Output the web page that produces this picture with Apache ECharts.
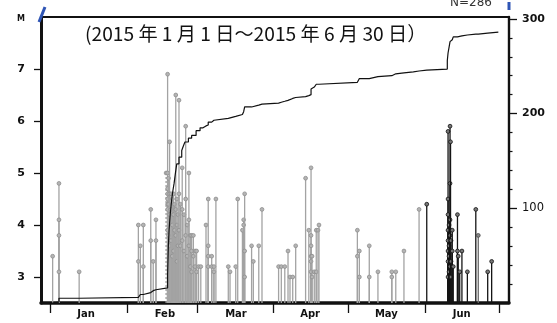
<!DOCTYPE html>
<html><head><meta charset="utf-8">
<script src="https://cdn.jsdelivr.net/npm/echarts@6/dist/echarts.min.js"></script>
<style>html,body{margin:0;padding:0;background:#fff}#c{width:557px;height:323px}</style>
</head><body><div id="c"></div>
<script>
// Days counted from 2015-01-01 (day 0)
const monthNames = ['Jan','Feb','Mar','Apr','May','Jun'];
const monthStarts = [0,31,59,90,120,151,181];
const monthLabelDays = [14.3,46.1,74.8,104.7,135.5,165.9];
const magTicks = [3,4,5,6,7];
const countMajorTicks = [100,200,300];
const countMinorTicks = [20,40,60,80,120,140,160,180,220,240,260,280];

// stems: day, magnitudes of events on that stem, shade (0 light gray, 1 black, 2 dark gray, 3 dashed)
const stemDay = [0.8,3.35,11.5,35.4,36.2,37.4,40.4,41.4,42.5,46.6,
 47.2,47.6,48.0,48.6,49.1,49.6,50.0,50.5,51.0,51.4,51.8,52.4,53.1,53.8,54.5,55.1,55.8,56.4,56.9,57.6,58.3,58.9,59.7,60.6,
 62.7,63.6,65.0,65.9,66.7,71.7,72.4,74.7,75.5,77.4,77.9,78.3,81.1,81.8,84.0,85.3,
 92.0,93.1,94.5,95.8,96.6,97.7,98.9,102.9,104.2,105.1,105.5,106.4,107.2,107.9,108.3,
 123.8,124.6,128.6,132.1,137.7,139.3,142.6,148.7,
 151.8,160.4,160.8,161.2,161.4,161.6,162.1,162.5,164.2,164.5,165.1,166.0,168.2,171.6,172.6,176.4,178.0];
const stemMags = [[3.4],[4.8,4.1,3.8,3.1],[3.1],[4.0,3.3],[3.6],[4.0,3.2],[4.3,3.7],[3.3],[4.1,3.7],[5.0],
 [6.9,5.0,4.7,4.6,4.5,4.4,4.3,3.9],[4.9,4.4,3.8],[5.6,4.6,4.2,3.6],[4.6,4.3,3.7],[4.5,4.0,3.4],[4.6,4.2,3.5],[4.4,3.9],[6.5,4.3,3.8],[4.5,4.0,3.3],[4.2,3.6],[6.4,4.6,3.9],[4.4,3.6],[5.1,4.3,3.7],[4.2,3.5],[5.9,4.5,3.8],[4.0,3.4],[5.0,4.1,3.6],[3.8,3.2],[3.8,3.5,3.1],[3.8,3.4],[3.5,3.2],[3.5,3.1],[3.2],[3.2],
 [4.0],[4.5,3.6,3.4,3.2],[3.4,3.2],[3.2,3.1],[4.5],[3.2],[3.1],[3.2],[4.5],[3.9],[4.1,4.0],[4.6,3.5,3.0],[3.6],[3.3],[3.6],[4.3],
 [3.2],[3.2],[3.2],[3.5],[3.0],[3.0],[3.6],[4.9],[3.9],[5.1,3.8,3.6,3.4,3.3,3.1],[3.4,3.0],[3.1],[3.9,3.1],[3.9],[4.0],
 [3.9,3.4],[3.5,3.0],[3.6,3.0],[3.1],[3.1,3.0],[3.1],[3.5],[4.3],
 [4.4],[5.8,4.5,4.2,3.9,3.7,3.5,3.3,3.0],[4.0,3.6,3.4,3.1],[5.9,4.8,4.1,3.8,3.2],[5.6],[3.7,3.3,3.0],[3.9,3.5],[3.2],[4.2,3.5],[3.4],[3.1],[3.5],[3.1],[4.3],[3.8],[3.1],[3.3]];
const stemShade = [0,0,0,0,0,0,0,0,0,3,
 0,0,0,0,0,0,0,0,0,0,0,0,0,0,0,0,0,0,0,0,0,0,0,0,
 0,0,0,0,0,0,0,0,0,0,0,0,0,0,0,0,
 0,0,0,0,0,0,0,0,0,0,0,0,0,0,0,
 0,0,0,0,0,0,0,0,
 1,1,1,1,1,1,1,1,1,1,1,1,1,1,2,1,1];

// cumulative number of events (step curve)
const cumDay =   [-3.9,0.8,3.35,11.5,35.4,36.2,37.4,40.4,41.4,42.5,47.2,47.5,47.8,48.3,48.8,49.3,49.8,50.4,50.9,51.8,52.9,53.6,54.2,55.6,56.9,58.7,60.3,61.5,62.7,63.6,65.0,65.9,71.7,72.4,74.7,75.5,77.4,77.9,78.3,81.1,81.8,84.0,85.3,92.0,93.1,94.5,95.8,96.6,97.7,98.9,102.9,104.2,105.1,105.5,106.4,107.2,108.3,123.8,124.6,128.6,132.1,137.7,139.3,142.6,146.4,148.7,151.8,160.1,160.4,160.8,161.2,161.6,162.1,162.5,164.2,166.0,168.2,171.6,172.6,176.4,180.7];
const cumCount = [0,1,5,6,8,9,11,13,14,16,30,60,77,95,108,118,126,138,147,154,161,166,170,174,177,182,185,187,188,191,193,195,196,197,198,199,200,202,207,208,209,210,211,212,213,214,215,216,217,218,219,220,226,228,229,231,233,235,237,239,240,242,243,244,245,246,247,256,264,270,276,278,280,281,282,283,284,284,285,286,286];

const shadeStroke = ['#a3a3a3','#151515','#6a6a6a','#9a9a9a'];
const shadeFill = ['#b4b4b4','#777777','#888888','#b4b4b4'];
const shadeEdge = ['#8e8e8e','#111111','#444444','#8e8e8e'];

const stemData = [];
stemDay.forEach((d,i)=>{ stemMags[i].forEach(m=>stemData.push([d,m,stemShade[i]])); });
const cumData = cumDay.map((d,i)=>[d,cumCount[i]]);

const chart = echarts.init(document.getElementById('c'));
const axisFont = 'DejaVu Sans';
chart.setOption({
  animation:false,
  grid:{left:41,right:48,top:17,bottom:20},
  xAxis:[{
    type:'value',min:-3.9,max:185,position:'bottom',
    axisLine:{show:true,onZero:false,lineStyle:{color:'#111',width:3.5}},
    axisTick:{show:true,customValues:monthStarts,length:10,lineStyle:{color:'#111',width:1.3}},
    axisLabel:{customValues:monthLabelDays,margin:6,color:'#111',fontFamily:axisFont,fontWeight:'bold',fontSize:10,
      formatter:v=>monthNames[monthLabelDays.indexOf(v)]||''},
    splitLine:{show:false}
  },{
    type:'value',min:-3.9,max:185,position:'top',
    axisLine:{show:true,onZero:false,lineStyle:{color:'#111',width:2.2}},
    axisTick:{show:false},axisLabel:{show:false},splitLine:{show:false}
  }],
  yAxis:[{
    type:'value',min:2.5,max:8,position:'left',
    axisLine:{show:true,onZero:false,lineStyle:{color:'#111',width:3}},
    axisTick:{show:true,customValues:magTicks,length:7,lineStyle:{color:'#111',width:1.3}},
    axisLabel:{customValues:magTicks.concat([7.96]),margin:16,color:'#111',fontFamily:axisFont,fontWeight:'bold',fontSize:11,
      formatter:v=>v>7.5?'{m|M}':String(v),rich:{m:{fontSize:8,fontWeight:'bold',fontFamily:axisFont,color:'#111'}}},
    splitLine:{show:false}
  },{
    type:'value',min:0,max:302,position:'right',
    axisLine:{show:true,onZero:false,lineStyle:{color:'#111',width:2.4}},
    axisTick:{show:true,customValues:countMinorTicks,length:3.5,lineStyle:{color:'#111',width:1.2}},
    axisLabel:{show:false},splitLine:{show:false}
  },{
    type:'value',min:0,max:302,position:'right',
    axisLine:{show:false,onZero:false},
    axisTick:{show:true,customValues:countMajorTicks,length:8,lineStyle:{color:'#111',width:1.3}},
    axisLabel:{customValues:countMajorTicks,margin:13,color:'#111',fontFamily:axisFont,fontSize:11,
      formatter:v=>v===100?'{n|100}':'{b|'+v+'}',
      rich:{n:{fontFamily:axisFont,fontSize:11.5,color:'#111'},b:{fontFamily:axisFont,fontSize:11,fontWeight:'bold',color:'#111'}}},
    splitLine:{show:false}
  }],
  series:[{
    type:'custom',xAxisIndex:0,yAxisIndex:0,z:2,
    data:stemData,
    renderItem:(params,api)=>{
      const d=api.value(0), m=api.value(1), s=api.value(2);
      const top=api.coord([d,m]); const base=api.coord([d,2.5]);
      return {type:'group',children:[
        {type:'line',shape:{x1:top[0],y1:top[1],x2:base[0],y2:base[1]},
          style:{stroke:shadeStroke[s],lineWidth:1.3,lineDash:s===3?[2,2]:null}},
        {type:'circle',shape:{cx:top[0],cy:top[1],r:1.9},
          style:{fill:shadeFill[s],stroke:shadeEdge[s],lineWidth:0.8}}
      ]};
    }
  },{
    type:'line',xAxisIndex:0,yAxisIndex:1,z:5,step:'end',symbol:'none',
    data:cumData,lineStyle:{color:'#111',width:1.2}
  }],
  graphic:[
    {type:'text',x:85,y:34,z:10,style:{text:'(2015 年 1 月 1 日～2015 年 6 月 30 日）',fontFamily:'Noto Sans CJK JP',fontSize:19.2,fill:'#111',textVerticalAlign:'middle'}},
    {type:'text',x:450,y:9,z:10,style:{text:'N=286',fontFamily:axisFont,fontSize:12,fill:'#333',textVerticalAlign:'bottom'}},
    {type:'line',z:20,shape:{x1:39,y1:22,x2:45,y2:7},style:{stroke:'#2f55b5',lineWidth:3}},
    {type:'rect',z:20,shape:{x:507.5,y:2,width:3,height:8},style:{fill:'#2f55b5'}}
  ]
});
</script></body></html>
